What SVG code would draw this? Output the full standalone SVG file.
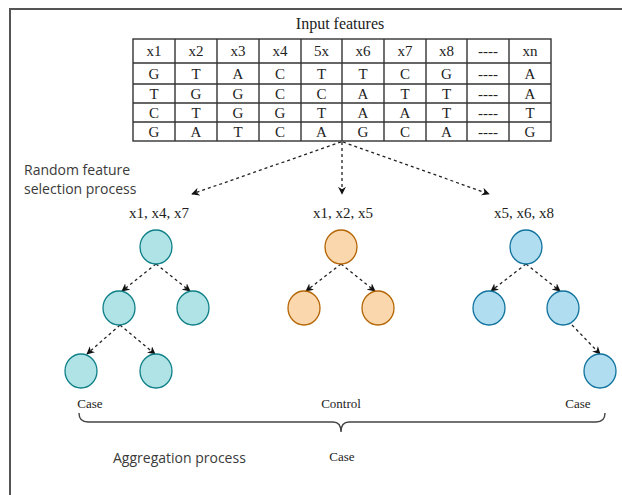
<svg xmlns="http://www.w3.org/2000/svg" width="622" height="495" viewBox="0 0 622 495">
<defs>
<marker id="ah" viewBox="0 0 10 10" refX="9" refY="5" markerWidth="8" markerHeight="8" orient="auto" markerUnits="userSpaceOnUse">
<path d="M0,0 L10,5 L0,10 L3,5 Z" fill="#111"/>
</marker>
<style>
.serif{font-family:"Liberation Serif","DejaVu Serif",serif;fill:#222;}
.sans{font-family:"Open Sans","Liberation Sans",sans-serif;fill:#3a3a3a;}
.cell{font-size:15px;text-anchor:middle;}
.grid{stroke:#333;stroke-width:1.4;fill:none;}
.conn{stroke:#222;stroke-width:1.3;stroke-dasharray:3,3;fill:none;marker-end:url(#ah);}
.teal{fill:#b0e3e6;stroke:#0e8088;stroke-width:1.3;}
.orange{fill:#fad7ac;stroke:#b46504;stroke-width:1.3;}
.blue{fill:#b1ddf0;stroke:#10739e;stroke-width:1.3;}
.lbl{font-size:15px;text-anchor:middle;}
.res{font-size:13px;text-anchor:middle;}
</style>
</defs>
<rect width="622" height="495" fill="#fff"/>
<g id="frame" stroke="#555" stroke-width="2" fill="none">
<line x1="10" y1="9" x2="622" y2="9"/>
<line x1="10" y1="8" x2="10" y2="495"/>
</g>
<text class="serif" x="340" y="29" font-size="16" text-anchor="middle">Input features</text>
<g id="table">
<rect class="grid" x="133" y="39" width="418" height="102"/>
<g class="grid">
<line x1="133" y1="63" x2="551" y2="63"/>
<line x1="133" y1="84" x2="551" y2="84"/>
<line x1="133" y1="103" x2="551" y2="103"/>
<line x1="133" y1="122" x2="551" y2="122"/>
<line x1="175" y1="39" x2="175" y2="141"/>
<line x1="217" y1="39" x2="217" y2="141"/>
<line x1="259" y1="39" x2="259" y2="141"/>
<line x1="301" y1="39" x2="301" y2="141"/>
<line x1="342" y1="39" x2="342" y2="141"/>
<line x1="384" y1="39" x2="384" y2="141"/>
<line x1="426" y1="39" x2="426" y2="141"/>
<line x1="467" y1="39" x2="467" y2="141"/>
<line x1="509" y1="39" x2="509" y2="141"/>
</g>
<g class="serif cell">
<text x="154" y="56">x1</text><text x="196" y="56">x2</text><text x="238" y="56">x3</text><text x="280" y="56">x4</text><text x="321.5" y="56">5x</text><text x="363" y="56">x6</text><text x="405" y="56">x7</text><text x="446.5" y="56">x8</text><text x="488" y="56">----</text><text x="530" y="56">xn</text>
<text x="154" y="79">G</text><text x="196" y="79">T</text><text x="238" y="79">A</text><text x="280" y="79">C</text><text x="321.5" y="79">T</text><text x="363" y="79">T</text><text x="405" y="79">C</text><text x="446.5" y="79">G</text><text x="488" y="79">----</text><text x="530" y="79">A</text>
<text x="154" y="99">T</text><text x="196" y="99">G</text><text x="238" y="99">G</text><text x="280" y="99">C</text><text x="321.5" y="99">C</text><text x="363" y="99">A</text><text x="405" y="99">T</text><text x="446.5" y="99">T</text><text x="488" y="99">----</text><text x="530" y="99">A</text>
<text x="154" y="118">C</text><text x="196" y="118">T</text><text x="238" y="118">G</text><text x="280" y="118">G</text><text x="321.5" y="118">T</text><text x="363" y="118">A</text><text x="405" y="118">A</text><text x="446.5" y="118">T</text><text x="488" y="118">----</text><text x="530" y="118">T</text>
<text x="154" y="137">G</text><text x="196" y="137">A</text><text x="238" y="137">T</text><text x="280" y="137">C</text><text x="321.5" y="137">A</text><text x="363" y="137">G</text><text x="405" y="137">C</text><text x="446.5" y="137">A</text><text x="488" y="137">----</text><text x="530" y="137">G</text>
</g>
</g>
<text class="sans" font-size="14"><tspan x="24" y="175">Random feature</tspan><tspan x="24" y="194">selection process</tspan></text>
<g id="connectors">
<path class="conn" d="M341,142 L192,194"/>
<path class="conn" d="M342,142 L342,194"/>
<path class="conn" d="M343,142 L489,194"/>
<path class="conn" d="M156,264 L122,291"/>
<path class="conn" d="M156,264 L190,291"/>
<path class="conn" d="M120,325 L87,354"/>
<path class="conn" d="M120,325 L155,354"/>
<path class="conn" d="M341,264 L306,291"/>
<path class="conn" d="M341,264 L375,291"/>
<path class="conn" d="M526,264 L491,291"/>
<path class="conn" d="M526,264 L560,291"/>
<path class="conn" d="M572,325 L600,354"/>
</g>
<g class="serif lbl">
<text x="159" y="218">x1, x4, x7</text>
<text x="343" y="218">x1, x2, x5</text>
<text x="524" y="218">x5, x6, x8</text>
</g>
<g id="tree1">
<ellipse id="t1_root" class="teal" cx="156" cy="247" rx="16" ry="17"/>
<ellipse id="t1_l" class="teal" cx="119" cy="308" rx="16" ry="17"/>
<ellipse id="t1_r" class="teal" cx="193" cy="308" rx="16" ry="17"/>
<ellipse id="t1_ll" class="teal" cx="81" cy="371" rx="16" ry="17"/>
<ellipse id="t1_lr" class="teal" cx="156" cy="371" rx="16" ry="17"/>
</g>
<g id="tree2">
<ellipse id="t2_root" class="orange" cx="341" cy="247" rx="16" ry="17"/>
<ellipse id="t2_l" class="orange" cx="304" cy="308" rx="16" ry="17"/>
<ellipse id="t2_r" class="orange" cx="378" cy="308" rx="16" ry="17"/>
</g>
<g id="tree3">
<ellipse id="t3_root" class="blue" cx="526" cy="247" rx="16" ry="17"/>
<ellipse id="t3_l" class="blue" cx="489" cy="308" rx="16" ry="17"/>
<ellipse id="t3_r" class="blue" cx="563" cy="308" rx="16" ry="17"/>
<ellipse id="t3_rr" class="blue" cx="600" cy="371" rx="16" ry="17"/>
</g>
<g class="serif res">
<text x="90" y="408">Case</text>
<text x="341" y="408">Control</text>
<text x="578" y="408">Case</text>
</g>
<path id="brace" d="M79,413 Q79,422 88,422 L333,422 Q341,422 341,432 Q341,422 349,422 L596,422 Q605,422 605,413" fill="none" stroke="#444" stroke-width="1.4"/>
<text class="sans" x="113" y="463" font-size="14">Aggregation process</text>
<text class="serif res" x="342" y="461">Case</text>
</svg>
